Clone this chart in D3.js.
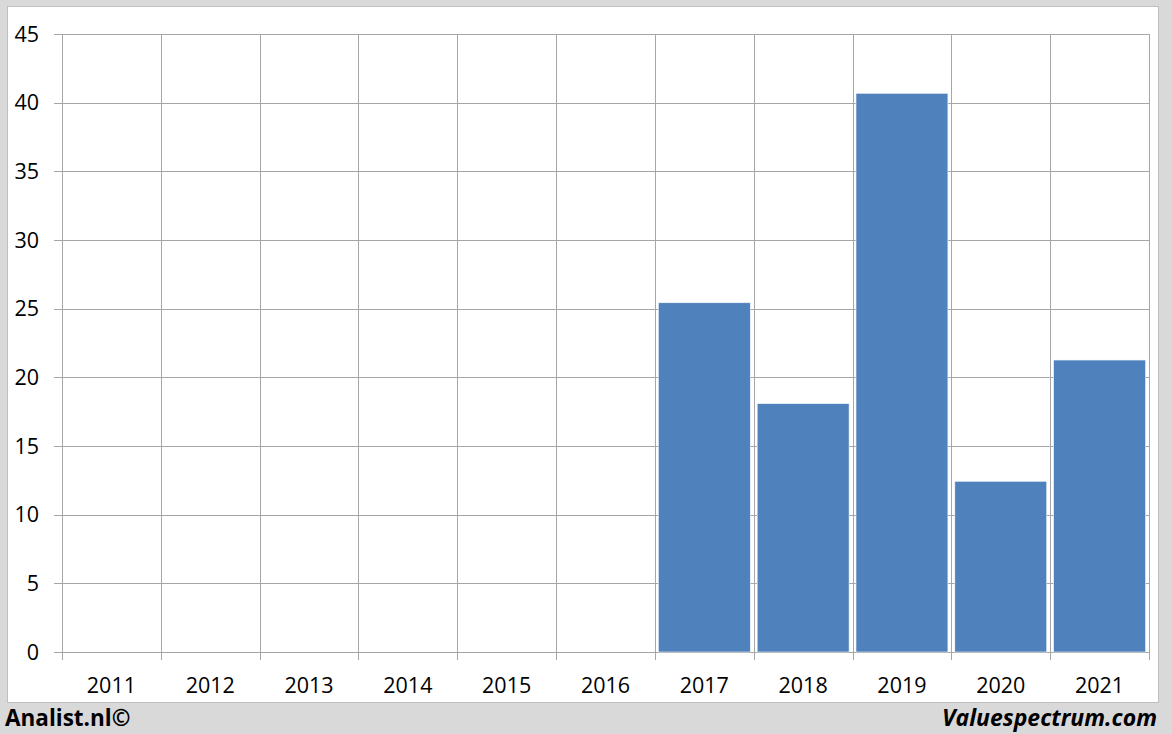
<!DOCTYPE html>
<html><head><meta charset="utf-8">
<script src="https://cdn.jsdelivr.net/npm/d3@7"></script>
<style>body{margin:0;background:#d9d9d9;} svg{display:block;}</style>
</head><body>
<svg id="chart" width="1172" height="734"></svg>
<script>
const categories = ["2011","2012","2013","2014","2015","2016","2017","2018","2019","2020","2021"];
const values = [null,null,null,null,null,null,25.43,18.08,40.68,12.43,21.26];
const yTicks = [0,5,10,15,20,25,30,35,40,45];

(function(){
const svg = d3.select("#chart");
const W = 1172, H = 734;
const font = "'Open Sans', 'Liberation Sans', sans-serif";

svg.append("rect").attr("x",0).attr("y",0).attr("width",W).attr("height",H).attr("fill","#d9d9d9");
svg.append("rect").attr("x",7.5).attr("y",6.5).attr("width",1151).attr("height",696)
  .attr("fill","#ffffff").attr("stroke","#bfbfbf").attr("stroke-width",1);

const pLeft = 62, pRight = 1149, pTop = 34, pBottom = 652;
const x = d3.scaleBand().domain(categories).range([pLeft, pRight]).paddingInner(0).paddingOuter(0);
const y = d3.scaleLinear().domain([0,45]).range([pBottom, pTop]);
const grid = "#a6a6a6";

svg.append("g").selectAll("line").data(yTicks).join("line")
  .attr("x1", pLeft-8).attr("x2", pRight)
  .attr("y1", d => Math.round(y(d))+0.5).attr("y2", d => Math.round(y(d))+0.5)
  .attr("stroke", grid).attr("stroke-width",1);

const vx = categories.map(c => x(c)).concat([pRight]);
svg.append("g").selectAll("line").data(vx).join("line")
  .attr("x1", d => Math.round(d)+0.5).attr("x2", d => Math.round(d)+0.5)
  .attr("y1", pTop).attr("y2", pBottom+8)
  .attr("stroke", grid).attr("stroke-width",1);

const bw = x.bandwidth();
const pad = bw*0.035;
svg.append("g").selectAll("rect").data(categories.map((c,i)=>({c, v: values[i]})).filter(d=>d.v!=null)).join("rect")
  .attr("x", d => x(d.c)+pad).attr("width", bw-2*pad)
  .attr("y", d => y(d.v)).attr("height", d => y(0)-y(d.v))
  .attr("fill","#4f81bd").attr("stroke","#f0f4fa").attr("stroke-width",0.6);

svg.append("g").selectAll("text").data(yTicks).join("text")
  .attr("x", 39).attr("y", d => y(d)).attr("dy","0.36em")
  .attr("text-anchor","end").attr("font-family",font).attr("font-size",21.5).attr("fill","#000")
  .text(d => d);

svg.append("g").selectAll("text").data(categories).join("text")
  .attr("x", d => x(d)+bw/2).attr("y", 685).attr("dy","0.36em")
  .attr("text-anchor","middle").attr("font-family",font).attr("font-size",21.5).attr("fill","#000")
  .text(d => d);

svg.append("text").attr("x",5).attr("y",718).attr("dy","0.36em")
  .attr("font-family",font).attr("font-weight","bold").attr("font-size",22.5).attr("fill","#000")
  .text("Analist.nl©");
svg.append("text").attr("x",1157).attr("y",718).attr("dy","0.36em").attr("text-anchor","end")
  .attr("font-family",font).attr("font-weight","bold").attr("font-style","italic").attr("font-size",23).attr("fill","#000")
  .text("Valuespectrum.com");
})();
</script>
</body></html>
